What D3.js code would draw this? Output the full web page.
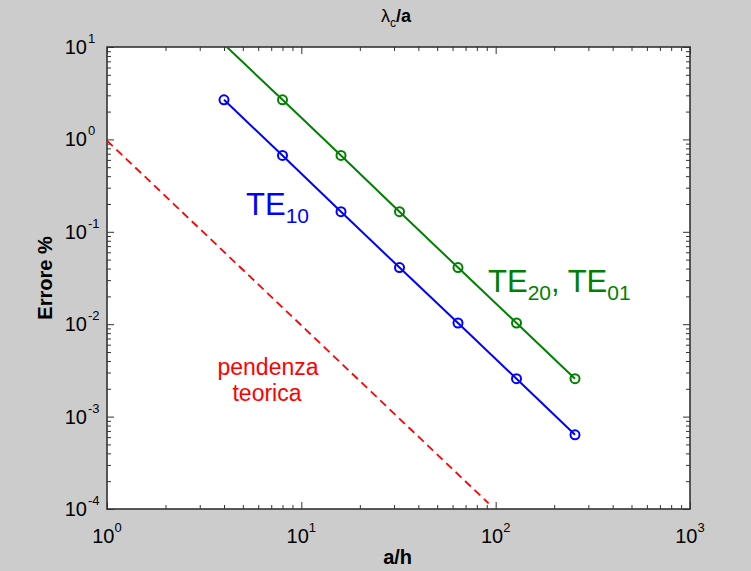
<!DOCTYPE html>
<html>
<head>
<meta charset="utf-8">
<script src="https://cdn.jsdelivr.net/npm/d3@7"></script>
<style>
  body { margin: 0; background: #cccccc; }
  svg { display: block; }
  text { font-family: "Liberation Sans", Arial, sans-serif; }
</style>
</head>
<body>
<svg id="chart"></svg>
<script>
// a/h values and error %
const xTE10 = [4, 8, 16, 32, 64, 128, 256];
const yTE10 = [2.68, 0.67, 0.165, 0.041, 0.0103, 0.00257, 0.000635];
const xTE20 = [4, 8, 16, 32, 64, 128, 256];
const yTE20 = [10.7, 2.68, 0.67, 0.165, 0.041, 0.0103, 0.00257];
// theoretical slope line
const xSlope = [1, 92];
const ySlope = [0.97, 0.000115];
// axis ticks
const xMajor = [1, 10, 100, 1000];
const xExp = ["0", "1", "2", "3"];
const yMajor = [1e-4, 1e-3, 1e-2, 1e-1, 1, 10];
const yExp = ["-4", "-3", "-2", "-1", "0", "1"];

const W = 751, H = 571;
const margin = { top: 47, right: 61, bottom: 62, left: 107 };
const width = W - margin.left - margin.right;
const height = H - margin.top - margin.bottom;

const svg = d3.select("#chart").attr("width", W).attr("height", H);

svg.append("rect").attr("width", W).attr("height", H).attr("fill", "#cccccc");

const x = d3.scaleLog().domain([1, 1000]).range([margin.left, margin.left + width]);
const y = d3.scaleLog().domain([1e-4, 10]).range([margin.top + height, margin.top]);

svg.append("rect")
  .attr("x", margin.left).attr("y", margin.top)
  .attr("width", width).attr("height", height)
  .attr("fill", "#ffffff");

svg.append("clipPath").attr("id", "plot-clip")
  .append("rect")
  .attr("x", margin.left).attr("y", margin.top)
  .attr("width", width).attr("height", height);

// ticks on all four sides, pointing inward
const isMajor = (v) => Math.abs(Math.log10(v) - Math.round(Math.log10(v))) < 1e-6;
const xMinor = x.ticks().filter((v) => !isMajor(v));
const yMinor = y.ticks().filter((v) => !isMajor(v));

function drawTicks(axisFn, scale, pos, majors, minors) {
  [[majors, -7], [minors, -4]].forEach(([vals, size]) => {
    svg.append("g")
      .attr("transform", pos)
      .call(axisFn(scale).tickValues(vals).tickSize(size).tickFormat(""))
      .call((g) => g.select(".domain").remove())
      .call((g) => g.selectAll("line").attr("stroke", "#333").attr("stroke-width", 1));
  });
}
drawTicks(d3.axisBottom, x, `translate(0,${margin.top + height})`, xMajor, xMinor);
drawTicks(d3.axisTop, x, `translate(0,${margin.top})`, xMajor, xMinor);
drawTicks(d3.axisLeft, y, `translate(${margin.left},0)`, yMajor, yMinor);
drawTicks(d3.axisRight, y, `translate(${margin.left + width},0)`, yMajor, yMinor);

svg.append("rect")
  .attr("x", margin.left).attr("y", margin.top)
  .attr("width", width).attr("height", height)
  .attr("fill", "none").attr("stroke", "#333").attr("stroke-width", 1.6);

// tick labels 10^k
const xl = svg.append("g").selectAll("text").data(xMajor).join("text")
  .attr("x", (d) => x(d)).attr("y", margin.top + height + 34)
  .attr("text-anchor", "middle").attr("fill", "#000");
xl.append("tspan").attr("font-size", 20).text("10");
xl.append("tspan").attr("font-size", 13).attr("dy", -11).text((d, i) => xExp[i]);

const yl = svg.append("g").selectAll("g").data(yMajor).join("g");
yl.append("text")
  .attr("x", 87).attr("y", (d) => y(d) + 7)
  .attr("text-anchor", "end").attr("font-size", 20).attr("fill", "#000")
  .text("10");
yl.append("text")
  .attr("x", 88).attr("y", (d) => y(d) - 4)
  .attr("font-size", 13).attr("fill", "#000")
  .text((d, i) => yExp[i]);

// data
const plot = svg.append("g").attr("clip-path", "url(#plot-clip)");
const line = d3.line().x((d) => x(d[0])).y((d) => y(d[1]));

plot.append("path")
  .datum(d3.zip(xSlope, ySlope))
  .attr("d", line)
  .attr("fill", "none").attr("stroke", "#ff0000").attr("stroke-width", 1.8)
  .attr("stroke-dasharray", "8,5");

const series = [
  { xs: xTE20, ys: yTE20, color: "#008000" },
  { xs: xTE10, ys: yTE10, color: "#0000ff" },
];
series.forEach((s) => {
  const pts = d3.zip(s.xs, s.ys);
  plot.append("path")
    .datum(pts)
    .attr("d", line)
    .attr("fill", "none").attr("stroke", s.color).attr("stroke-width", 2);
  plot.selectAll(null)
    .data(pts.filter((p) => p[1] <= y.domain()[1]))
    .join("circle")
    .attr("cx", (d) => x(d[0])).attr("cy", (d) => y(d[1]))
    .attr("r", 4.5)
    .attr("fill", "none").attr("stroke", s.color).attr("stroke-width", 2);
});

// annotations
const te10 = svg.append("text").attr("x", 246).attr("y", 215).attr("fill", "#0000ff");
te10.append("tspan").attr("font-size", 31).text("TE");
te10.append("tspan").attr("font-size", 21).attr("dy", 8).text("10");

const te20 = svg.append("text").attr("x", 488).attr("y", 292).attr("fill", "#008000");
te20.append("tspan").attr("font-size", 31).text("TE");
te20.append("tspan").attr("font-size", 21).attr("dy", 8).text("20");
te20.append("tspan").attr("font-size", 31).attr("dy", -8).text(", TE");
te20.append("tspan").attr("font-size", 21).attr("dy", 8).text("01");

svg.append("text").attr("x", 268).attr("y", 375)
  .attr("text-anchor", "middle").attr("font-size", 23).attr("fill", "#ff0000")
  .text("pendenza");
svg.append("text").attr("x", 267).attr("y", 401)
  .attr("text-anchor", "middle").attr("font-size", 23).attr("fill", "#ff0000")
  .text("teorica");

// axis labels and title
svg.append("text")
  .attr("x", x(Math.sqrt(1000) * 0.99)).attr("y", 564)
  .attr("text-anchor", "middle").attr("font-size", 20).attr("font-weight", "bold").attr("fill", "#000")
  .text("a/h");

svg.append("text")
  .attr("transform", `translate(52,${margin.top + height / 2}) rotate(-90)`)
  .attr("text-anchor", "middle").attr("font-size", 20).attr("font-weight", "bold").attr("fill", "#000")
  .text("Errore %");

const title = svg.append("text")
  .attr("x", 396).attr("y", 22)
  .attr("text-anchor", "middle").attr("fill", "#000");
title.append("tspan").attr("font-size", 18).text("λ");
title.append("tspan").attr("font-size", 12).attr("dy", 5).text("c");
title.append("tspan").attr("font-size", 18).attr("font-weight", "bold").attr("dy", -5).text("/a");
</script>
</body>
</html>
